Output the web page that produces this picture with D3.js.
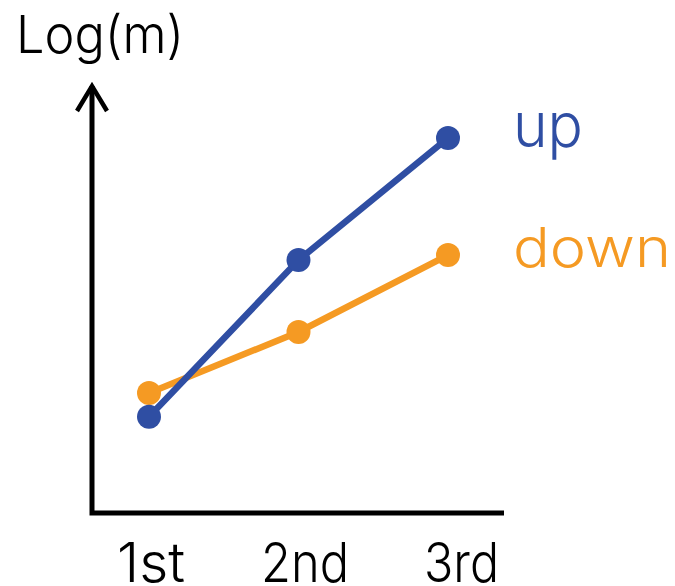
<!DOCTYPE html>
<html><head><meta charset="utf-8">
<script src="https://cdn.jsdelivr.net/npm/d3@7"></script>
<style>body{margin:0;background:#fff}svg{display:block}</style>
</head><body>
<script>
const categories = ["1st", "2nd", "3rd"];
const upValues = [2.3, 6.05, 8.97];
const downValues = [2.87, 4.33, 6.17];
const seriesNames = ["up", "down"];
const colors = ["#2f4ea3", "#f59a23"];
const yLabel = "Log(m)";

const W = 675, H = 586;
const svg = d3.select("body").append("svg").attr("width", W).attr("height", H);
const font = "Inter, 'Noto Sans', sans-serif";

const x = d3.scalePoint().domain(categories).range([149, 448]);
const y = d3.scaleLinear().domain([0, 10]).range([513, 95]);

// axes
svg.append("path")
  .attr("d", `M92,86 L92,${y(0)} L504,${y(0)}`)
  .attr("fill", "none").attr("stroke", "#000").attr("stroke-width", 5)
  .attr("stroke-linejoin", "miter");
svg.append("path")
  .attr("d", `M77,111 L92,86 L107,111`)
  .attr("fill", "none").attr("stroke", "#000").attr("stroke-width", 4.5)
  .attr("stroke-linejoin", "miter");

function txt(s, x0, base, size, len, color) {
  svg.append("text").attr("x", x0).attr("y", base)
    .attr("font-family", font).attr("font-weight", 300)
    .attr("font-size", size).attr("fill", color)
    .attr("textLength", len).attr("lengthAdjust", "spacingAndGlyphs")
    .text(s);
}

txt(yLabel, 16, 53, 52, 168, "#000");

const labelLeft = [117, 261, 424];
const labelLen = [68, 88, 75];
categories.forEach((c, i) => txt(c, labelLeft[i], 582, 55, labelLen[i], "#000"));

const data = [upValues, downValues];
const line = d3.line().x((d, i) => x(categories[i])).y(d => y(d));
[1, 0].forEach(k => {
  svg.append("path").attr("d", line(data[k])).attr("fill", "none")
    .attr("stroke", colors[k]).attr("stroke-width", 6.5);
  data[k].forEach((v, i) => {
    svg.append("circle").attr("cx", x(categories[i])).attr("cy", y(v))
      .attr("r", 12).attr("fill", colors[k]);
  });
});

txt(seriesNames[0], 513, 147, 62, 70, colors[0]);
txt(seriesNames[1], 513, 267, 55, 158, colors[1]);
</script>
</body></html>
